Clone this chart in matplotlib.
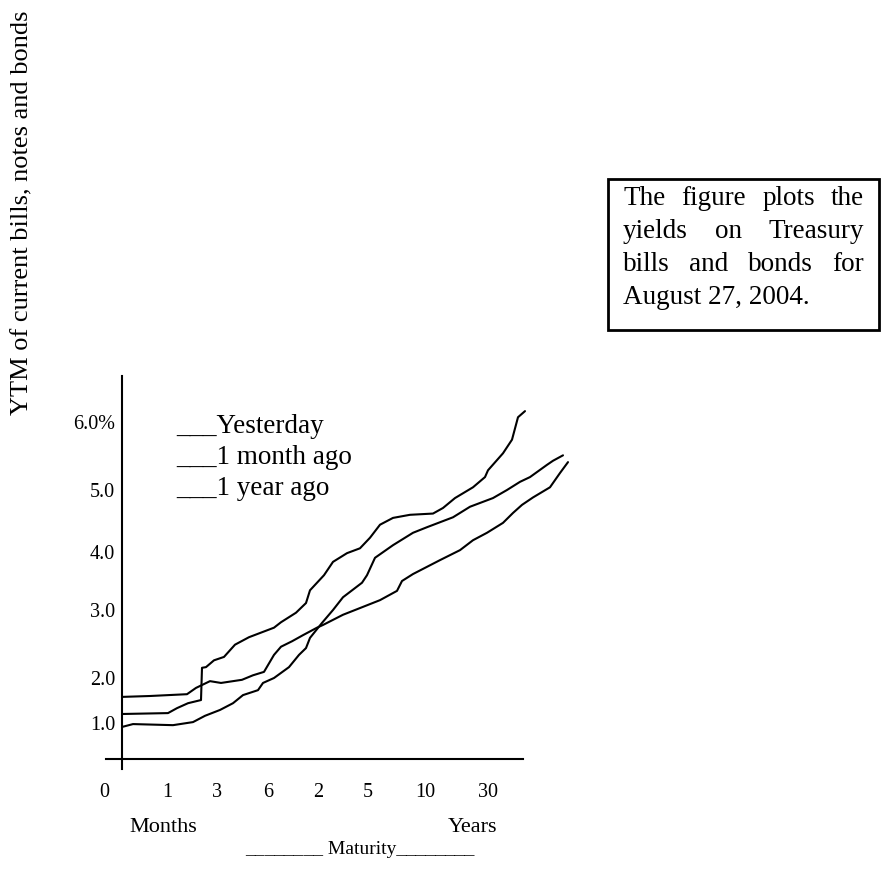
import matplotlib
matplotlib.use("Agg")
import matplotlib.pyplot as plt
from matplotlib.patches import Rectangle
import numpy as np

plt.rcParams['font.family'] = ['Liberation Serif', 'DejaVu Serif']

W, H = 882, 869

# maturity positions (axis units) and yields in %
names = ['Yesterday', '1 month ago', '1 year ago']

x_yest = [0.00, 0.56, 1.30, 1.48, 1.76, 1.98, 2.40, 2.62, 2.84, 3.04, 3.18, 3.40,
          3.62, 3.90, 4.02, 4.42, 4.72, 5.16, 5.50, 5.60, 5.82, 6.36, 6.76, 7.02,
          7.30, 7.62, 7.82, 8.00, 8.22, 8.56, 8.76, 8.92]
y_yest = [1.58, 1.60, 1.64, 1.78, 1.93, 1.89, 1.96, 2.04, 2.09, 2.34, 2.46, 2.54,
          2.63, 2.74, 2.78, 2.93, 3.02, 3.17, 3.33, 3.50, 3.62, 3.86, 4.03, 4.19,
          4.31, 4.47, 4.63, 4.76, 4.88, 5.04, 5.25, 5.41]

x_month = [0.00, 0.92, 1.10, 1.32, 1.58, 1.60, 1.68, 1.84, 2.04, 2.26, 2.54, 3.04,
           3.18, 3.48, 3.68, 3.76, 4.04, 4.22, 4.50, 4.76, 4.96, 5.16, 5.42, 5.76,
           6.22, 6.42, 6.66, 7.02, 7.26, 7.32, 7.62, 7.80, 7.92, 8.06]
y_month = [1.20, 1.22, 1.33, 1.44, 1.51, 2.15, 2.16, 2.26, 2.31, 2.49, 2.60, 2.74,
           2.82, 2.96, 3.12, 3.34, 3.60, 3.83, 3.98, 4.06, 4.23, 4.44, 4.55, 4.60,
           4.62, 4.71, 4.87, 5.04, 5.19, 5.29, 5.54, 5.74, 6.07, 6.16]

x_year = [0.00, 0.22, 1.02, 1.42, 1.66, 1.96, 2.22, 2.42, 2.72, 2.82, 3.04, 3.34,
          3.54, 3.68, 3.76, 4.00, 4.22, 4.42, 4.80, 4.90, 5.06, 5.42, 5.82, 6.10,
          6.36, 6.62, 6.96, 7.42, 7.70, 7.96, 8.16, 8.50, 8.62, 8.82]
y_year = [0.89, 0.97, 0.94, 1.02, 1.16, 1.29, 1.44, 1.62, 1.73, 1.89, 2.00, 2.16,
          2.34, 2.44, 2.59, 2.81, 3.00, 3.22, 3.47, 3.60, 3.90, 4.11, 4.31, 4.40,
          4.48, 4.56, 4.73, 4.87, 5.00, 5.12, 5.19, 5.37, 5.43, 5.51]

y_ticks = [1, 2, 3, 4, 5, 6]
y_labels = ['1.0', '2.0', '3.0', '4.0', '5.0', '6.0%']
x_labels = ['0', '1', '3', '6', '2', '5', '10', '30']

box_lines = ['The figure plots the', 'yields on Treasury',
             'bills and bonds for', 'August 27, 2004.']

# layout helpers
x_tick_pos = [-0.36, 0.90, 1.90, 2.92, 3.92, 4.92, 6.06, 7.32]
YK = [-1, 0, 1, 2, 3, 4, 5, 6, 7]
PK = [795, 759, 723, 678, 610, 552, 490, 422, 354]   # pixel rows of yield knots


def fx(px):
    return px / W


def fy(py):
    return 1 - py / H


def fwd(y):
    return np.interp(y, YK, [-p for p in PK])


def inv(h):
    return np.interp(h, [-p for p in PK], YK)


fig = plt.figure(figsize=(W / 100, H / 100), dpi=100)
ax = fig.add_axes([fx(95), fy(775), fx(575) - fx(95), fy(370) - fy(775)])
ax.set_yscale('function', functions=(fwd, inv))
ax.set_xlim((95 - 122) / 50, (575 - 122) / 50)
ax.set_ylim(-(775 - 759) / 36, 6 + (422 - 370) / 68)

for xs, ys in [(x_yest, y_yest), (x_month, y_month), (x_year, y_year)]:
    ax.plot(xs, ys, color='black', lw=1.5, solid_capstyle='round',
            solid_joinstyle='round')

for s in ['top', 'right']:
    ax.spines[s].set_visible(False)
ax.spines['left'].set_position(('data', 0))
ax.spines['bottom'].set_position(('data', 0))
ax.spines['left'].set_bounds(-(769 - 759) / 36, 6 + (422 - 376) / 68)
ax.spines['bottom'].set_bounds((106 - 122) / 50, (523 - 122) / 50)
ax.spines['left'].set_linewidth(1.5)
ax.spines['bottom'].set_linewidth(1.5)

ax.set_yticks(y_ticks)
ax.set_yticklabels(y_labels)
ax.set_xticks(x_tick_pos)
ax.set_xticklabels(x_labels)
ax.tick_params(axis='y', length=0, pad=5, labelsize=14.5)
ax.tick_params(axis='x', length=0, pad=17, labelsize=14.5)
ax.patch.set_visible(False)

# legend-like labels
for i, name in enumerate(names):
    fig.text(fx(176), fy(433 + 31 * i), '___' + name, fontsize=19.5,
             ha='left', va='baseline')

fig.text(fx(163), fy(828), 'Months', fontsize=16, ha='center', va='center')
fig.text(fx(473), fy(828), 'Years', fontsize=16, ha='center', va='center')
fig.text(fx(360), fy(850), '________ Maturity________', fontsize=14,
         ha='center', va='center')

fig.text(fx(22), fy(213), 'YTM of current bills, notes and bonds', fontsize=19,
         rotation=90, ha='center', va='center')

# note box with justified text
fig.add_artist(Rectangle((fx(608), fy(330)), fx(879) - fx(608), fy(179) - fy(330),
                         transform=fig.transFigure, fill=False, lw=2, color='black'))
renderer = fig.canvas.get_renderer()
left, right = 623, 864
for i, line in enumerate(box_lines):
    base = 205 + 33 * i
    words = line.split()
    if i == len(box_lines) - 1:
        fig.text(fx(left), fy(base), line, fontsize=19.5, ha='left', va='baseline')
        continue
    arts = [fig.text(0, 0, w, fontsize=19.5, ha='left', va='baseline') for w in words]
    widths = [a.get_window_extent(renderer).width for a in arts]
    gap = (right - left - sum(widths)) / (len(words) - 1)
    xpos = left
    for a, wdt in zip(arts, widths):
        a.set_position((fx(xpos), fy(base)))
        xpos += wdt + gap

fig.savefig('out.png', dpi=100)
